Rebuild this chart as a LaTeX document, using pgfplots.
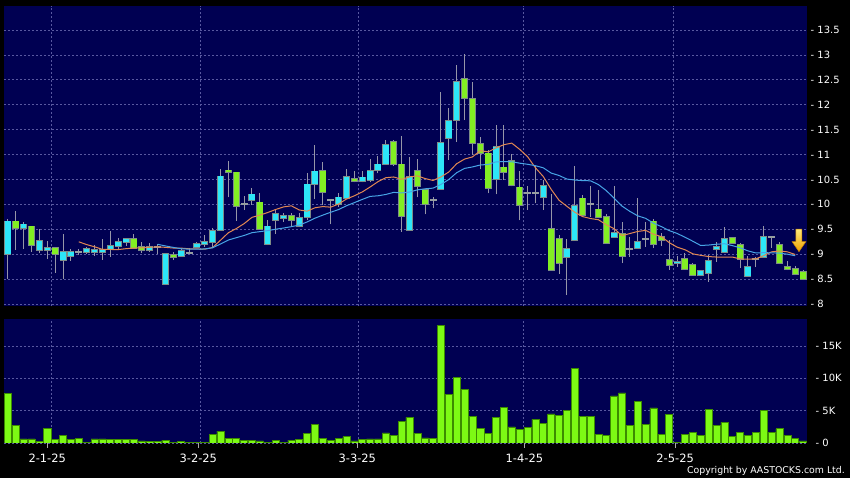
\documentclass[border=0pt]{standalone}
\usepackage{pgfplots}
\pgfplotsset{compat=1.18}
\usepackage{pgfplotstable}
\usepackage{fontspec}
\setmainfont{DejaVu Sans}

\definecolor{navybg}{RGB}{0,0,82}
\definecolor{gridc}{RGB}{88,88,160}
\definecolor{cyanc}{RGB}{45,230,248}
\definecolor{greenc}{RGB}{130,238,35}
\definecolor{bordc}{RGB}{125,140,135}
\definecolor{wickc}{RGB}{150,150,168}
\definecolor{dojic}{RGB}{150,158,160}
\definecolor{volg}{RGB}{125,250,20}
\definecolor{volb}{RGB}{60,140,0}
\definecolor{orangec}{RGB}{226,136,82}
\definecolor{bluec}{RGB}{72,165,230}
\definecolor{tickc}{RGB}{170,170,170}

% up candles (cyan): index, low, high, body bottom, body top
\pgfplotstableread{
i lo hi bot top
0 8.50 9.70 9.00 9.66
2 9.10 9.65 9.52 9.60
4 9.02 9.50 9.08 9.26
5 8.90 9.27 9.08 9.12
7 8.50 9.40 8.88 9.04
8 8.87 9.10 8.97 9.04
10 9.00 9.14 9.05 9.10
11 8.97 9.19 9.05 9.08
12 8.89 9.30 9.05 9.08
13 8.95 9.47 9.11 9.16
14 9.09 9.32 9.17 9.24
15 9.17 9.31 9.25 9.30
18 9.05 9.23 9.09 9.15
20 8.40 9.00 8.40 9.00
22 8.96 9.12 8.96 9.06
24 9.12 9.25 9.15 9.21
25 9.14 9.38 9.21 9.25
26 9.14 9.52 9.25 9.46
27 9.48 10.70 9.48 10.56
31 9.99 10.32 10.08 10.20
33 9.18 9.69 9.20 9.56
34 9.40 9.89 9.69 9.81
35 9.65 9.83 9.72 9.77
37 9.55 9.82 9.57 9.73
38 9.68 10.62 9.74 10.40
39 10.10 11.19 10.41 10.66
42 9.95 10.22 10.00 10.14
43 10.10 10.70 10.12 10.55
45 10.44 10.67 10.46 10.54
46 10.44 10.90 10.49 10.67
47 10.62 10.96 10.68 10.80
48 10.79 11.30 10.81 11.20
51 9.48 10.94 9.48 10.55
55 10.31 12.25 10.31 11.24
56 10.89 11.93 11.34 11.67
57 11.26 12.80 11.69 12.46
62 10.20 11.60 10.50 11.16
68 9.89 10.49 10.14 10.37
71 8.18 9.31 8.95 9.10
72 9.29 10.76 9.29 9.97
77 9.35 10.37 9.35 9.42
80 9.13 10.12 9.13 9.24
85 8.75 8.97 8.82 8.85
88 8.56 8.69 8.59 8.67
89 8.45 8.99 8.63 8.87
90 8.85 9.25 9.11 9.14
91 9.05 9.54 9.05 9.31
94 8.55 8.97 8.57 8.75
96 8.94 9.57 8.94 9.35
}\cyandata

% down candles (green)
\pgfplotstableread{
i lo hi bot top
1 9.09 9.87 9.52 9.66
3 9.05 9.56 9.18 9.56
6 8.63 9.12 9.01 9.12
16 9.13 9.40 9.13 9.30
17 9.02 9.25 9.09 9.15
21 8.88 9.05 8.94 8.98
28 10.14 10.87 10.65 10.68
29 9.67 10.64 9.97 10.64
32 9.50 10.22 9.50 10.04
36 9.56 9.83 9.68 9.77
40 9.99 10.84 10.24 10.67
44 10.44 10.67 10.46 10.51
49 10.77 11.30 10.81 11.26
50 9.45 11.37 9.77 10.80
52 10.14 10.90 10.37 10.67
53 9.80 10.30 10.00 10.29
58 11.69 13.02 12.13 12.51
59 10.99 12.46 11.24 12.12
60 10.70 11.36 11.02 11.22
61 10.22 11.09 10.32 11.02
63 10.49 11.59 10.65 10.74
64 10.36 11.01 10.39 10.87
65 9.68 10.67 9.99 10.34
69 8.68 10.20 8.68 9.50
70 8.61 9.38 8.82 9.31
73 9.74 10.18 9.78 10.12
75 9.72 10.28 9.75 9.90
76 9.20 9.80 9.22 9.75
78 8.82 9.64 8.97 9.40
82 9.12 9.70 9.21 9.66
83 9.16 9.43 9.29 9.35
84 8.69 9.29 8.79 8.89
86 8.69 9.02 8.70 8.91
87 8.57 8.83 8.59 8.79
92 9.22 9.35 9.22 9.33
93 8.73 9.22 8.90 9.19
98 8.80 9.24 8.83 9.19
99 8.68 8.86 8.71 8.75
100 8.58 8.76 8.60 8.71
101 8.48 8.69 8.50 8.65
}\greendata

% unchanged (doji)
\pgfplotstableread{
i lo hi v
9 8.99 9.10 9.05
19 9.00 9.21 9.14
23 9.00 9.12 9.03
30 9.89 10.16 10.00
41 9.60 10.10 10.08
54 9.92 10.15 10.08
66 9.89 10.37 10.22
67 10.02 10.77 10.22
74 9.75 10.37 10.00
79 8.95 9.35 9.11
81 9.15 9.65 9.31
95 8.74 8.95 8.91
97 9.13 9.35 9.35
}\dojidata

% 10-day moving average
\pgfplotstableread{
i v
9 9.248
10 9.192
11 9.148
12 9.096
13 9.094
14 9.092
15 9.110
16 9.122
17 9.127
18 9.138
19 9.147
20 9.137
21 9.123
22 9.121
23 9.108
24 9.105
25 9.100
26 9.133
27 9.280
28 9.430
29 9.513
30 9.613
31 9.739
32 9.783
33 9.836
34 9.896
35 9.948
36 9.970
37 9.887
38 9.862
39 9.931
40 9.955
41 9.943
42 10.007
43 10.106
44 10.171
45 10.248
46 10.347
47 10.454
48 10.534
49 10.549
50 10.502
51 10.549
52 10.572
53 10.517
54 10.479
55 10.549
56 10.649
57 10.815
58 10.908
59 10.951
60 11.076
61 11.053
62 11.132
63 11.197
64 11.228
65 11.103
66 10.958
67 10.734
68 10.558
69 10.302
70 10.082
71 9.960
72 9.841
73 9.754
74 9.715
75 9.691
76 9.591
77 9.511
78 9.371
79 9.414
80 9.456
81 9.477
82 9.401
83 9.352
84 9.231
85 9.141
86 9.089
87 9.006
88 8.976
89 8.952
90 8.942
91 8.942
92 8.943
93 8.904
94 8.900
95 8.906
96 8.971
97 9.047
98 9.063
99 9.047
100 8.993
}\maten

% 20-day moving average
\pgfplotstableread{
i v
19 9.198
20 9.165
21 9.136
22 9.109
23 9.101
24 9.099
25 9.105
26 9.128
27 9.204
28 9.284
29 9.330
30 9.375
31 9.431
32 9.452
33 9.472
34 9.501
35 9.524
36 9.552
37 9.584
38 9.646
39 9.722
40 9.784
41 9.841
42 9.895
43 9.971
44 10.034
45 10.098
46 10.159
47 10.171
48 10.198
49 10.240
50 10.229
51 10.246
52 10.290
53 10.312
54 10.325
55 10.399
56 10.498
57 10.635
58 10.721
59 10.750
60 10.789
61 10.801
62 10.852
63 10.857
64 10.854
65 10.826
66 10.804
67 10.775
68 10.733
69 10.627
70 10.579
71 10.507
72 10.487
73 10.476
74 10.472
75 10.397
76 10.275
77 10.123
78 9.965
79 9.858
80 9.769
81 9.719
82 9.621
83 9.553
84 9.473
85 9.416
86 9.340
87 9.259
88 9.174
89 9.183
90 9.199
91 9.210
92 9.172
93 9.128
94 9.066
95 9.024
96 9.030
97 9.027
98 9.020
99 9.000
100 8.968
}\matwenty

% volume, thousands
\pgfplotstableread{
i v
0 7.64
1 2.72
2 0.62
3 0.62
4 0.26
5 2.30
6 0.51
7 1.23
8 0.51
9 0.72
10 0.15
11 0.62
12 0.62
13 0.51
14 0.51
15 0.51
16 0.51
17 0.31
18 0.20
19 0.26
20 0.46
21 0.15
22 0.20
23 0.15
24 0.10
25 0.10
26 1.38
27 1.85
28 0.77
29 0.77
30 0.46
31 0.46
32 0.31
33 0.15
34 0.46
35 0.15
36 0.46
37 0.51
38 1.54
39 2.92
40 0.77
41 0.46
42 0.75
43 1.00
44 0.33
45 0.54
46 0.62
47 0.62
48 1.55
49 1.23
50 3.32
51 3.98
52 1.50
53 0.80
54 0.75
55 18.15
56 7.52
57 10.15
58 8.30
59 4.10
60 2.30
61 1.44
62 4.00
63 5.54
64 2.50
65 2.10
66 2.40
67 3.64
68 3.08
69 4.50
70 4.26
71 5.03
72 11.50
73 4.10
74 4.10
75 1.38
76 1.18
77 7.28
78 7.74
79 2.72
80 6.46
81 2.92
82 5.44
83 1.33
84 4.46
85 0.10
86 1.38
87 1.64
88 1.18
89 5.23
90 2.67
91 3.18
92 1.03
93 1.69
94 1.23
95 1.69
96 5.03
97 1.69
98 2.20
99 1.13
100 0.77
101 0.31
}\voldata

\pgfplotsset{
  panel/.style={
    scale only axis, width=803bp, anchor=south west,
    xmin=-0.5, xmax=101.5,
    axis background/.style={fill=navybg},
    axis line style={draw=none},
    ytick pos=right, yticklabel pos=right,
    ytick style={draw=none},
    yticklabel style={text=white, font=\fontsize{10}{12}\selectfont, anchor=west, inner sep=3.5bp},
    ymajorgrids=true,
    grid style={color=gridc, dash pattern=on 2bp off 2bp, line width=0.6bp},
    major grid style={color=gridc, dash pattern=on 2bp off 2bp, line width=0.6bp},
  },
  wicks/.style={draw=none, mark=none, forget plot,
    error bars/.cd, y dir=plus, y explicit, error mark=none,
    error bar style={draw=wickc, line width=1bp, solid}},
}

\begin{document}
\begin{tikzpicture}[x=1bp,y=1bp]
\fill[black] (0,0) rectangle (850,478);
\useasboundingbox (0,0) rectangle (850,478);

% ---------- price panel ----------
\begin{axis}[panel,
  at={(4bp,171.5bp)}, height=300.5bp,
  ymin=7.95, ymax=13.98,
  ytick={8,8.5,9,9.5,10,10.5,11,11.5,12,12.5,13,13.5},
  yticklabel={- \pgfmathprintnumber[assume math mode=true]{\tick}},
  xtick={5.55,24.44,44.51,65.48,84.54},
  xticklabels={},
  xtick style={draw=none},
  xmajorgrids=true,
]
% wicks
\addplot[wicks] table[x=i, y=lo, y error plus expr=\thisrow{hi}-\thisrow{lo}]{\cyandata};
\addplot[wicks] table[x=i, y=lo, y error plus expr=\thisrow{hi}-\thisrow{lo}]{\greendata};
\addplot[wicks] table[x=i, y=lo, y error plus expr=\thisrow{hi}-\thisrow{lo}]{\dojidata};
% body outlines
\addplot[draw=none, mark=none, forget plot, error bars/.cd, y dir=both, y explicit, error mark=none,
  error bar style={draw=bordc, line width=7bp, solid}]
  table[x=i, y=bot, y error plus expr=\thisrow{top}-\thisrow{bot}+0.015, y error minus expr=0.015]{\cyandata};
\addplot[draw=none, mark=none, forget plot, error bars/.cd, y dir=both, y explicit, error mark=none,
  error bar style={draw=bordc, line width=7bp, solid}]
  table[x=i, y=bot, y error plus expr=\thisrow{top}-\thisrow{bot}+0.015, y error minus expr=0.015]{\greendata};
% body fills
\addplot[draw=none, mark=none, forget plot, error bars/.cd, y dir=plus, y explicit, error mark=none,
  error bar style={draw=cyanc, line width=5.4bp, solid}]
  table[x=i, y=bot, y error plus expr=\thisrow{top}-\thisrow{bot}]{\cyandata};
\addplot[draw=none, mark=none, forget plot, error bars/.cd, y dir=plus, y explicit, error mark=none,
  error bar style={draw=greenc, line width=5.4bp, solid}]
  table[x=i, y=bot, y error plus expr=\thisrow{top}-\thisrow{bot}]{\greendata};
% doji
\addplot[draw=none, mark=none, forget plot, error bars/.cd, y dir=both, y explicit, error mark=none,
  error bar style={draw=dojic, line width=7bp, solid}]
  table[x=i, y=v, y error plus expr=0.02, y error minus expr=0.02]{\dojidata};
% moving averages
\addplot[orangec, line width=1bp, no marks] table[x=i, y=v]{\maten};
\addplot[bluec, line width=1bp, no marks] table[x=i, y=v]{\matwenty};
% marker arrow
\shade[top color={rgb,255:red,255;green,232;blue,120}, bottom color={rgb,255:red,240;green,160;blue,0}, draw={rgb,255:red,200;green,130;blue,0}, line width=0.5bp]
  (axis cs:100.10,9.50) -- (axis cs:100.86,9.50) -- (axis cs:100.86,9.25) -- (axis cs:101.35,9.25)
  -- (axis cs:100.48,9.05) -- (axis cs:99.61,9.25) -- (axis cs:100.10,9.25) -- cycle;
\end{axis}

% ---------- volume panel ----------
\begin{axis}[panel,
  at={(4bp,35bp)}, height=124bp,
  ymin=0, ymax=19.17,
  ytick={0,5,10,15},
  yticklabels={- 0,- 5K,- 10K,- 15K},
  xtick={4.99,24.18,44.38,65.6,84.75},
  xticklabels={2-1-25,3-2-25,3-3-25,1-4-25,2-5-25},
  xtick pos=bottom, tick align=outside,
  xtick style={draw=tickc, line width=0.6bp},
  major tick length=5bp,
  xticklabel style={text=white, font=\fontsize{11.5}{13}\selectfont, yshift=-2bp},
  xmajorgrids=false,
  extra x ticks={5.55,24.44,44.51,65.48,84.54},
  extra x tick labels={},
  extra x tick style={grid=major, major tick length=0pt},
]
\addplot[ybar, bar width=7bp, bar shift=0pt, fill=volg, draw=volb, line width=0.6bp] table[x=i, y=v]{\voldata};
\end{axis}

\node[anchor=base east, inner sep=0pt, text=white, font=\fontsize{9.4}{11}\selectfont] at (845,4) {Copyright by AASTOCKS.com Ltd.};
\end{tikzpicture}
\end{document}
